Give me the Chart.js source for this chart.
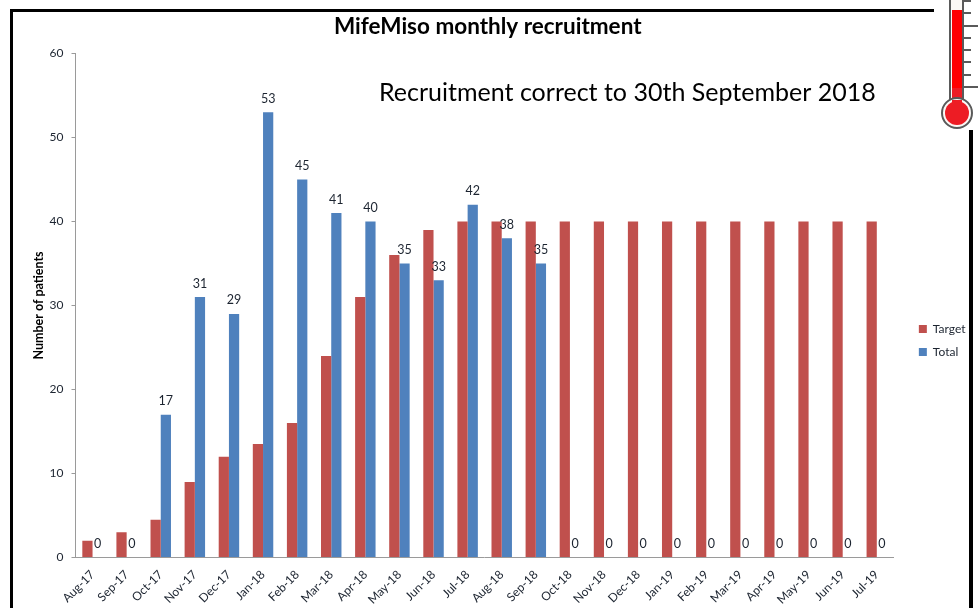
<!DOCTYPE html>
<html>
<head>
<meta charset="utf-8">
<title>MifeMiso monthly recruitment</title>
<script src="https://cdn.jsdelivr.net/npm/chart.js@4"></script>
<style>
  html, body { margin: 0; padding: 0; background: #fff; }
  #wrap { position: relative; width: 978px; height: 608px; }
</style>
</head>
<body>
<div id="wrap"><canvas id="chart" width="978" height="608"></canvas></div>
<script>
const months = ["Aug-17", "Sep-17", "Oct-17", "Nov-17", "Dec-17", "Jan-18", "Feb-18", "Mar-18",
  "Apr-18", "May-18", "Jun-18", "Jul-18", "Aug-18", "Sep-18", "Oct-18", "Nov-18", "Dec-18",
  "Jan-19", "Feb-19", "Mar-19", "Apr-19", "May-19", "Jun-19", "Jul-19"];
const target = [2, 3, 4.5, 9, 12, 13.5, 16, 24, 31, 36, 39, 40, 40, 40, 40, 40, 40, 40, 40, 40, 40, 40, 40, 40];
const total = [0, 0, 17, 31, 29, 53, 45, 41, 40, 35, 33, 42, 38, 35, 0, 0, 0, 0, 0, 0, 0, 0, 0, 0];
const chartTitle = "MifeMiso monthly recruitment";
const subTitle = "Recruitment correct to 30th September 2018";
const yTitle = "Number of patients";

const FONT = "Lato, 'Open Sans', sans-serif";

// the legend sits beside the middle of the plot, and the title is a bit left of centre
const moveBoxesPlugin = {
  id: "moveBoxesPlugin",
  afterLayout(chart) {
    chart.legend.left += 14;
    chart.legend.right += 14;
    chart.legend.bottom -= 239;
    chart.titleBlock.left -= 17;
  }
};

// value labels above the Total bars, plus the note in the top right
const labelsPlugin = {
  id: "labelsPlugin",
  afterDatasetsDraw(chart) {
    const ctx = chart.ctx;
    const meta = chart.getDatasetMeta(1);
    ctx.save();
    ctx.font = "12.5px " + FONT;
    ctx.fillStyle = "#1c2430";
    ctx.textAlign = "center";
    ctx.textBaseline = "middle";
    meta.data.forEach((bar, i) => {
      ctx.fillText(String(total[i]), bar.x, bar.y - 13.5);
    });
    ctx.font = "25px " + FONT;
    ctx.fillStyle = "#000";
    ctx.textAlign = "left";
    ctx.fillText(subTitle, 379, 93);
    ctx.restore();
  }
};

// black frame and the thermometer at the top right corner
const decorPlugin = {
  id: "decorPlugin",
  afterDraw(chart) {
    const ctx = chart.ctx;
    ctx.save();
    ctx.fillStyle = "#000";
    ctx.fillRect(10, 9, 924, 3);
    ctx.fillRect(10, 9, 3, 599);
    ctx.fillRect(969, 130, 4, 478);

    // tube
    ctx.fillStyle = "#fbf8f5";
    ctx.fillRect(951, 0, 12, 100);
    ctx.fillStyle = "#ff0000";
    ctx.fillRect(952, 10, 10, 78);
    ctx.fillStyle = "#ed1c24";
    ctx.fillRect(952, 88, 10, 18);
    ctx.strokeStyle = "#5a5a5a";
    ctx.lineWidth = 2;
    ctx.beginPath();
    ctx.moveTo(950, 0);
    ctx.lineTo(950, 100);
    ctx.moveTo(963, 0);
    ctx.lineTo(963, 100);
    ctx.stroke();

    // bulb
    ctx.beginPath();
    ctx.arc(957, 113, 15, 0, Math.PI * 2);
    ctx.fillStyle = "#fbf8f5";
    ctx.fill();
    ctx.stroke();
    ctx.beginPath();
    ctx.arc(957, 113, 12, 0, Math.PI * 2);
    ctx.fillStyle = "#ed1c24";
    ctx.fill();
    ctx.fillRect(952, 100, 10, 6);

    // scale marks
    [1, 13, 26, 38, 50, 62, 75, 87].forEach((y) => {
      const long = y === 26 || y === 87;
      ctx.beginPath();
      ctx.moveTo(964, y);
      ctx.lineTo(long ? 978 : 971, y);
      ctx.stroke();
    });
    ctx.restore();
  }
};

new Chart(document.getElementById("chart"), {
  type: "bar",
  data: {
    labels: months,
    datasets: [
      { label: "Target", data: target, backgroundColor: "#c0504d" },
      { label: "Total", data: total, backgroundColor: "#4f81bd" }
    ]
  },
  plugins: [moveBoxesPlugin, labelsPlugin, decorPlugin],
  options: {
    responsive: false,
    animation: false,
    layout: { padding: { left: 31, right: 16.5, top: 0, bottom: 0 } },
    datasets: { bar: { categoryPercentage: 0.6, barPercentage: 1 } },
    plugins: {
      title: {
        display: true,
        text: chartTitle,
        color: "#000",
        font: { family: FONT, size: 22.5, weight: "bold" },
        padding: { top: 13, bottom: 13.5 }
      },
      legend: {
        position: "right",
        align: "end",
        labels: {
          boxWidth: 8,
          boxHeight: 8,
          padding: 11,
          color: "#1c2430",
          font: { family: FONT, size: 12 }
        }
      },
      tooltip: { enabled: false }
    },
    scales: {
      x: {
        grid: { display: false },
        border: { color: "#9a9a9a" },
        ticks: {
          autoSkip: false,
          minRotation: 45,
          maxRotation: 45,
          color: "#1c2430",
          padding: 2,
          font: { family: FONT, size: 12 }
        },
        afterFit(scale) { scale.height = 50.5; }
      },
      y: {
        min: 0,
        max: 60,
        grid: { drawOnChartArea: false, color: "#9a9a9a", tickLength: 4 },
        border: { color: "#9a9a9a" },
        ticks: {
          stepSize: 10,
          color: "#1c2430",
          padding: 8,
          font: { family: FONT, size: 12 }
        },
        title: {
          display: true,
          text: yTitle,
          color: "#000",
          font: { family: FONT, size: 12.5, weight: "bold" },
          padding: 0
        },
        afterFit(scale) { scale.width = 44.5; }
      }
    }
  }
});
</script>
</body>
</html>
